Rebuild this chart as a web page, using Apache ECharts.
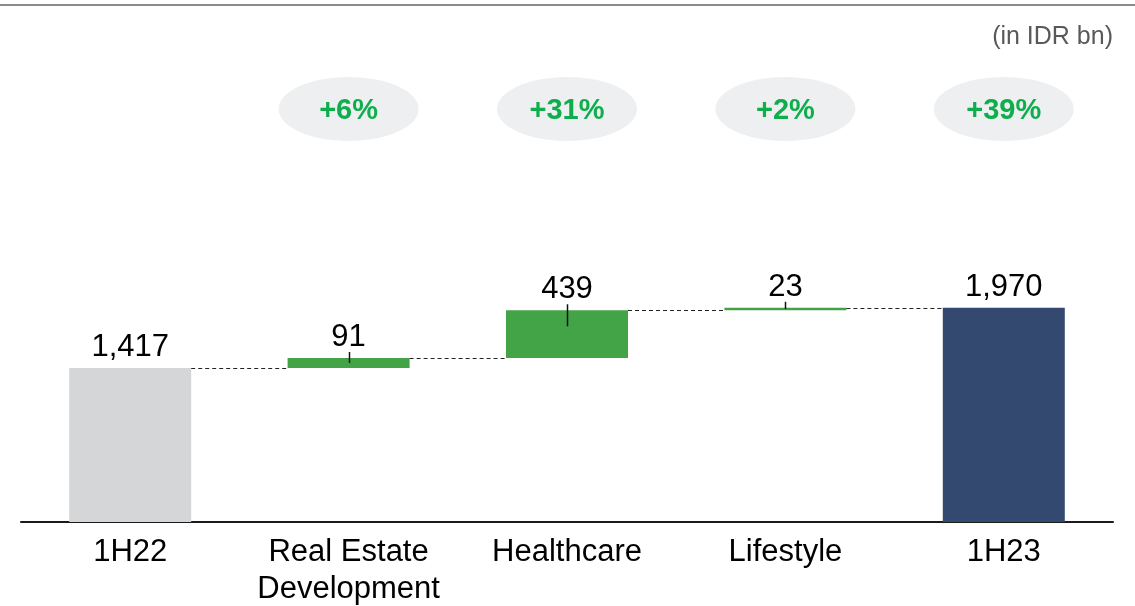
<!DOCTYPE html>
<html>
<head>
<meta charset="utf-8">
<script src="https://cdn.jsdelivr.net/npm/echarts@6/dist/echarts.min.js"></script>
<style>
  html, body { margin: 0; padding: 0; background: #fff; }
  #chart { width: 1135px; height: 606px; }
</style>
</head>
<body>
<div id="chart"></div>
<script>
// Net revenue bridge, 1H22 -> 1H23 (IDR bn)
const categories = ['1H22', 'Real Estate\nDevelopment', 'Healthcare', 'Lifestyle', '1H23'];
const startValue = 1417;
const deltas = [91, 439, 23];
const endValue = 1970;
const unitNote = '(in IDR bn)';

const FONT = "Arial, 'Liberation Sans', sans-serif";
const GRAY = '#d5d6d8';
const GREEN = '#42a447';
const NAVY = '#33496f';
const PCT_GREEN = '#0fae4d';

// Visible bar lengths and the invisible offsets under them
const visible = [startValue, ...deltas, endValue];
const offsets = [0];
let running = startValue;
deltas.forEach(d => { offsets.push(running); running += d; });
offsets.push(0);
// Level each bar ends at (used by connectors)
const levels = visible.map((v, i) => offsets[i] + v);
// Growth against the opening value, per column (none for the opening column)
const growth = visible.map((v, i) => {
  if (i === 0) return null;
  const diff = i === visible.length - 1 ? v - startValue : v;
  return '+' + Math.round(diff / startValue * 100) + '%';
});

const barColors = visible.map((v, i) =>
  i === 0 ? GRAY : (i === visible.length - 1 ? NAVY : GREEN));

const chart = echarts.init(document.getElementById('chart'), null, { renderer: 'canvas' });

const BAR_W = 122;

chart.setOption({
  animation: false,
  backgroundColor: '#fff',
  grid: { left: 21, right: 22, top: 87, bottom: 84, outerBoundsMode: 'none', containLabel: false },
  xAxis: {
    type: 'category',
    data: categories,
    axisLine: { show: true, lineStyle: { color: '#1a1a1a', width: 2 } },
    axisTick: { show: false },
    axisLabel: {
      color: '#000', fontFamily: FONT, fontSize: 31, lineHeight: 37,
      margin: 12, interval: 0
    }
  },
  yAxis: { type: 'value', min: 0, max: 4000, show: false, splitLine: { show: false } },
  graphic: [
    { type: 'rect', shape: { x: 0, y: 4, width: 1135, height: 2 },
      style: { fill: '#8a8a8a' }, silent: true },
    { type: 'text', right: 22, top: 25,
      style: { text: unitNote, fill: '#595959', font: '25px ' + FONT, textAlign: 'right' } }
  ],
  series: [
    {
      type: 'bar', stack: 'w', barWidth: BAR_W,
      data: offsets,
      itemStyle: { color: 'transparent' },
      emphasis: { disabled: true }, silent: true
    },
    {
      type: 'bar', stack: 'w', barWidth: BAR_W,
      data: visible.map((v, i) => ({ value: v, itemStyle: { color: barColors[i] } })),
      label: {
        show: true, position: 'top', distance: 5,
        color: '#000', fontFamily: FONT, fontSize: 31,
        formatter: p => p.value.toLocaleString('en-US')
      },
      emphasis: { disabled: true }, silent: true
    },
    {
      // dashed connectors between consecutive bars
      type: 'custom', silent: true, z: 5,
      data: levels.slice(0, -1).map((lv, i) => [i, lv]),
      renderItem: (params, api) => {
        const i = api.value(0);
        const lv = api.value(1);
        const a = api.coord([i, lv]);
        const b = api.coord([i + 1, lv]);
        const y = Math.round(a[1]) + 0.5;
        return {
          type: 'line',
          shape: { x1: a[0] + BAR_W / 2, y1: y, x2: b[0] - BAR_W / 2, y2: y },
          style: { stroke: '#222', lineWidth: 1, lineDash: [4, 3] }
        };
      }
    },
    {
      // small marker at the top of each change bar
      type: 'custom', silent: true, z: 10,
      data: deltas.map((d, k) => [k + 1, offsets[k + 1], d]),
      renderItem: (params, api) => {
        const i = api.value(0);
        const top = api.coord([i, api.value(1) + api.value(2)]);
        const bot = api.coord([i, api.value(1)]);
        const h = bot[1] - top[1];
        const below = Math.min(h / 2, 16);
        const x = Math.round(top[0]) + 0.5;
        return {
          type: 'line', z2: 10,
          shape: { x1: x, y1: top[1] - 6, x2: x, y2: top[1] + below },
          style: { stroke: '#111', lineWidth: 1.5 }
        };
      }
    },
    {
      // growth badges above the columns
      type: 'custom', silent: true,
      data: growth.map((g, i) => [i, g]).filter(d => d[1] !== null),
      renderItem: (params, api) => {
        const i = api.value(0);
        const cx = api.coord([i, 0])[0];
        const cy = 109;
        return {
          type: 'group',
          children: [
            { type: 'ellipse', shape: { cx: cx, cy: cy, rx: 70, ry: 32 },
              style: { fill: '#eeeff0' } },
            { type: 'text', x: cx, y: cy + 2,
              style: { text: growth[i], fill: PCT_GREEN, font: 'bold 29px ' + FONT,
                       textAlign: 'center', textVerticalAlign: 'middle' } }
          ]
        };
      }
    }
  ]
});
</script>
</body>
</html>
